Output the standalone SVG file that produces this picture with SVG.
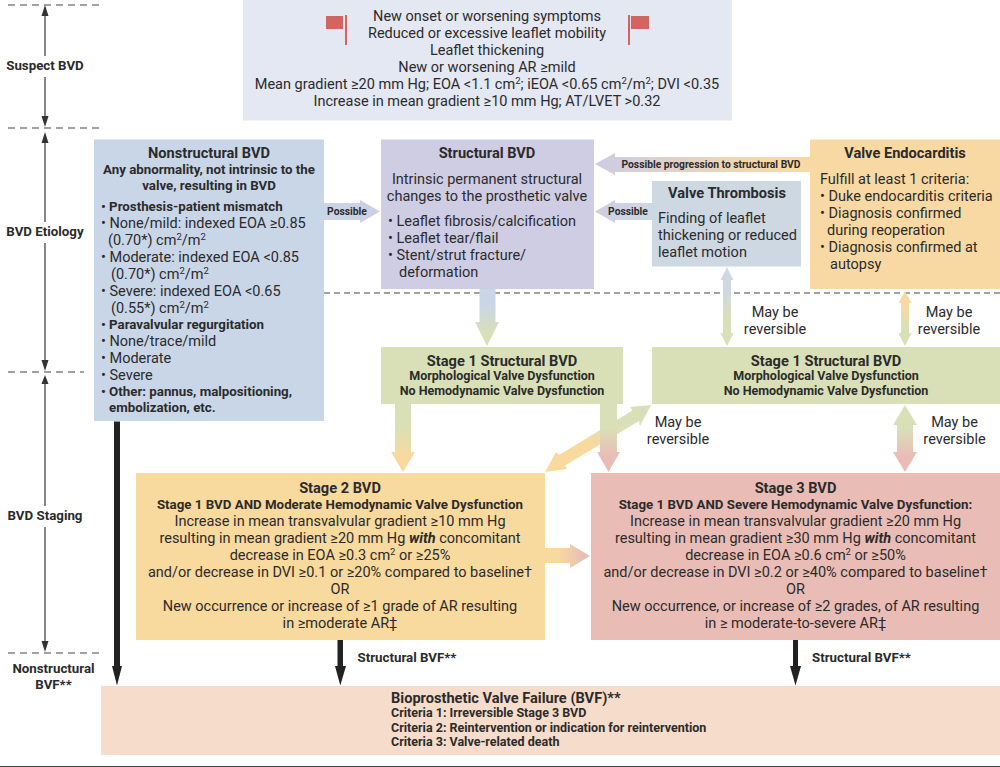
<svg xmlns="http://www.w3.org/2000/svg" width="1000" height="767" viewBox="0 0 1000 767">
<defs>
<style>
text{font-family:"Roboto","Noto Sans","Liberation Sans",sans-serif;fill:#2b2b2b;font-size:14.500px}
.c{text-anchor:middle}
.h{font-weight:700;font-size:14.600px}
.b{font-weight:700;font-size:13.300px}
.s{font-weight:700;font-size:12.500px}
.t{font-weight:700;font-size:10.300px}
.l{font-weight:700;font-size:13.300px}
.dash{stroke:#444;stroke-width:1.2;stroke-dasharray:7 5;fill:none}
.dash2{stroke:#444;stroke-width:1.2;stroke-dasharray:6 4;fill:none}
.ax{stroke:#555;stroke-width:1.4;fill:none}
.ah{fill:#333}
.k{fill:#222}
.flag{fill:#d0665f}
</style>
<linearGradient id="gBlueGreen" x1="0" y1="0" x2="0" y2="1"><stop offset="0.25" stop-color="#c9d6e8"/><stop offset="0.8" stop-color="#d9e0b7"/></linearGradient>
<linearGradient id="gThromb" x1="0" y1="0" x2="0" y2="1"><stop offset="0.3" stop-color="#ced8e3"/><stop offset="0.65" stop-color="#d9e0b7"/></linearGradient>
<linearGradient id="gEndo" x1="0" y1="0" x2="0" y2="1"><stop offset="0.3" stop-color="#f8d9a4"/><stop offset="0.65" stop-color="#d9e0b7"/></linearGradient>
<linearGradient id="gGreenOrange" x1="0" y1="0" x2="0" y2="1"><stop offset="0.3" stop-color="#d9e0b7"/><stop offset="0.8" stop-color="#f8d99e"/></linearGradient>
<linearGradient id="gGreenPink" x1="0" y1="0" x2="0" y2="1"><stop offset="0.35" stop-color="#d9e0b7"/><stop offset="0.75" stop-color="#e9bdb6"/></linearGradient>
<linearGradient id="gOrangePink" x1="0" y1="0" x2="1" y2="0"><stop offset="0.3" stop-color="#f8d99e"/><stop offset="0.85" stop-color="#e9bdb6"/></linearGradient>
<linearGradient id="gPossL" x1="0" y1="0" x2="1" y2="0"><stop offset="0" stop-color="#c9d6e8"/><stop offset="1" stop-color="#cfcde3"/></linearGradient>
<linearGradient id="gPossR" x1="0" y1="0" x2="1" y2="0"><stop offset="0" stop-color="#cfcde3"/><stop offset="1" stop-color="#ced8e3"/></linearGradient>
<linearGradient id="gProg" x1="0" y1="0" x2="1" y2="0"><stop offset="0.05" stop-color="#cfcde3"/><stop offset="0.85" stop-color="#f8d9a4"/></linearGradient>
<linearGradient id="gDiag" x1="0" y1="1" x2="1" y2="0"><stop offset="0.4" stop-color="#f8d99e"/><stop offset="0.72" stop-color="#d9e0b7"/></linearGradient>
</defs>
<rect width="1000" height="767" fill="#fff"/>
<rect y="766" width="1000" height="1" fill="#444"/>

<g id="phase-axis">
<path class="dash" d="M8 5H100M8 128H100M8 372H84M8 653H100"/>
<path class="ax" d="M45 12V56M45 77V122M45 137V222M45 243V366M45 380V506M45 527V647"/>
<path class="ah" d="M45 5l-3.500 11h7zM45 127l-3.500 -11h7zM45 132l-3.500 11h7zM45 371l-3.500 -11h7zM45 375l-3.500 9h7zM45 652l-3.500 -11h7z"/>
<text class="l c" x="45" y="70">Suspect BVD</text>
<text class="l c" x="45" y="236">BVD Etiology</text>
<text class="l c" x="45" y="520">BVD Staging</text>
<text class="l c" x="53.500" y="673">Nonstructural</text>
<text class="l c" x="53.500" y="689">BVF**</text>
</g>

<path class="dash2" id="etiology-divider" d="M324 293H1000"/>

<g id="suspect">
<rect x="243" y="0" width="489" height="120.500" fill="#e3e8f2"/>
<rect class="flag" x="326" y="16" width="17" height="13"/><rect class="flag" x="345" y="15" width="2" height="30"/>
<rect class="flag" x="631" y="16" width="18" height="13"/><rect class="flag" x="628" y="15" width="2" height="30"/>
<text class="c" x="487" y="21">New onset or worsening symptoms</text>
<text class="c" x="487" y="38">Reduced or excessive leaflet mobility</text>
<text class="c" x="487" y="55">Leaflet thickening</text>
<text class="c" x="487" y="72">New or worsening AR ≥mild</text>
<text class="c" x="487" y="89">Mean gradient ≥20 mm Hg; EOA &lt;1.1 cm<tspan dy="-5" font-size="9.500">2</tspan><tspan dy="5">; iEOA &lt;0.65 cm</tspan><tspan dy="-5" font-size="9.500">2</tspan><tspan dy="5">/m</tspan><tspan dy="-5" font-size="9.500">2</tspan><tspan dy="5">; DVI &lt;0.35</tspan></text>
<text class="c" x="487" y="106">Increase in mean gradient ≥10 mm Hg; AT/LVET &gt;0.32</text>
</g>

<g id="nonstructural">
<rect x="94" y="139.500" width="230" height="281.500" fill="#c9d6e8"/>
<text class="h c" x="209" y="158">Nonstructural BVD</text>
<text class="b c" x="209" y="174">Any abnormality, not intrinsic to the</text>
<text class="b c" x="209" y="190">valve, resulting in BVD</text>
<text class="b" x="101" y="211">• Prosthesis-patient mismatch</text>
<text x="101" y="228">• None/mild: indexed EOA ≥0.85</text>
<text x="108" y="245">(0.70*) cm<tspan dy="-5" font-size="9.500">2</tspan><tspan dy="5">/m</tspan><tspan dy="-5" font-size="9.500">2</tspan></text>
<text x="101" y="262">• Moderate: indexed EOA &lt;0.85</text>
<text x="111" y="279">(0.70*) cm<tspan dy="-5" font-size="9.500">2</tspan><tspan dy="5">/m</tspan><tspan dy="-5" font-size="9.500">2</tspan></text>
<text x="101" y="296">• Severe: indexed EOA &lt;0.65</text>
<text x="111" y="313">(0.55*) cm<tspan dy="-5" font-size="9.500">2</tspan><tspan dy="5">/m</tspan><tspan dy="-5" font-size="9.500">2</tspan></text>
<text class="b" x="101" y="329">• Paravalvular regurgitation</text>
<text x="101" y="346">• None/trace/mild</text>
<text x="101" y="363">• Moderate</text>
<text x="101" y="380">• Severe</text>
<text class="b" x="101" y="396">• Other: pannus, malpositioning,</text>
<text class="b" x="109" y="412">embolization, etc.</text>
</g>

<g id="structural">
<rect x="381" y="139.500" width="213" height="149.500" fill="#cfcde3"/>
<text class="h c" x="487" y="158">Structural BVD</text>
<text class="c" x="487" y="184">Intrinsic permanent structural</text>
<text class="c" x="487" y="201">changes to the prosthetic valve</text>
<text x="388" y="226">• Leaflet fibrosis/calcification</text>
<text x="388" y="243">• Leaflet tear/flail</text>
<text x="388" y="260">• Stent/strut fracture/</text>
<text x="399" y="277">deformation</text>
</g>

<g id="thrombosis">
<rect x="652" y="181" width="149" height="85.500" fill="#ced8e3"/>
<text class="h c" x="727" y="198">Valve Thrombosis</text>
<text x="658" y="223">Finding of leaflet</text>
<text x="658" y="240">thickening or reduced</text>
<text x="658" y="257">leaflet motion</text>
</g>

<g id="endocarditis">
<rect x="810" y="139.500" width="190" height="149.500" fill="#f8d9a4"/>
<text class="h c" x="905" y="158">Valve Endocarditis</text>
<text x="820" y="184">Fulfill at least 1 criteria:</text>
<text x="820" y="201">• Duke endocarditis criteria</text>
<text x="820" y="218">• Diagnosis confirmed</text>
<text x="827" y="235">during reoperation</text>
<text x="820" y="252">• Diagnosis confirmed at</text>
<text x="830" y="269">autopsy</text>
</g>

<g id="stage1-left">
<rect x="381" y="347" width="242" height="57" fill="#d9e0b7"/>
<text class="h c" x="502" y="366">Stage 1 Structural BVD</text>
<text class="s c" x="502" y="380">Morphological Valve Dysfunction</text>
<text class="s c" x="502" y="395">No Hemodynamic Valve Dysfunction</text>
</g>

<g id="stage1-right">
<rect x="652" y="347" width="348" height="57" fill="#d9e0b7"/>
<text class="h c" x="826" y="366">Stage 1 Structural BVD</text>
<text class="s c" x="826" y="380">Morphological Valve Dysfunction</text>
<text class="s c" x="826" y="395">No Hemodynamic Valve Dysfunction</text>
</g>

<g id="stage2">
<rect x="136" y="473" width="409" height="167" fill="#f8d99e"/>
<text class="h c" x="340" y="493">Stage 2 BVD</text>
<text class="b c" x="340" y="509">Stage 1 BVD AND Moderate Hemodynamic Valve Dysfunction</text>
<text class="c" x="340" y="526">Increase in mean transvalvular gradient ≥10 mm Hg</text>
<text class="c" x="340" y="543">resulting in mean gradient ≥20 mm Hg <tspan font-weight="700" font-style="italic">with</tspan> concomitant</text>
<text class="c" x="340" y="560">decrease in EOA ≥0.3 cm<tspan dy="-5" font-size="9.500">2</tspan><tspan dy="5"> or ≥25%</tspan></text>
<text class="c" x="340" y="577">and/or decrease in DVI ≥0.1 or ≥20% compared to baseline†</text>
<text class="c" x="340" y="594">OR</text>
<text class="c" x="340" y="611">New occurrence or increase of ≥1 grade of AR resulting</text>
<text class="c" x="340" y="628">in ≥moderate AR‡</text>
</g>

<g id="stage3">
<rect x="591" y="473" width="409" height="167" fill="#e9bdb6"/>
<text class="h c" x="795.500" y="493">Stage 3 BVD</text>
<text class="b c" x="795.500" y="509">Stage 1 BVD AND Severe Hemodynamic Valve Dysfunction:</text>
<text class="c" x="795.500" y="526">Increase in mean transvalvular gradient ≥20 mm Hg</text>
<text class="c" x="795.500" y="543">resulting in mean gradient ≥30 mm Hg <tspan font-weight="700" font-style="italic">with</tspan> concomitant</text>
<text class="c" x="795.500" y="560">decrease in EOA ≥0.6 cm<tspan dy="-5" font-size="9.500">2</tspan><tspan dy="5"> or ≥50%</tspan></text>
<text class="c" x="795.500" y="577">and/or decrease in DVI ≥0.2 or ≥40% compared to baseline†</text>
<text class="c" x="795.500" y="594">OR</text>
<text class="c" x="795.500" y="611">New occurrence, or increase of ≥2 grades, of AR resulting</text>
<text class="c" x="795.500" y="628">in ≥ moderate-to-severe AR‡</text>
</g>

<g id="bvf">
<rect x="101" y="686" width="899" height="69" fill="#f6dcca"/>
<text class="h" x="391" y="703">Bioprosthetic Valve Failure (BVF)**</text>
<text class="s" x="391" y="717">Criteria 1: Irreversible Stage 3 BVD</text>
<text class="s" x="391" y="732">Criteria 2: Reintervention or indication for reintervention</text>
<text class="s" x="391" y="746">Criteria 3: Valve-related death</text>
</g>

<g id="connectors">
<polygon fill="url(#gPossL)" points="324,203 360,203 360,200 380,211.500 360,223 360,220 324,220"/>
<polygon fill="url(#gPossR)" points="652,203 615,203 615,200 595,211.500 615,223 615,220 652,220"/>
<polygon fill="url(#gProg)" points="810,157 615,157 615,153 595,164 615,175 615,172 810,172"/>
<polygon fill="url(#gBlueGreen)" points="479.500,289 495.500,289 495.500,322 499,322 487,346 475,322 479.500,322"/>
<polygon fill="url(#gThromb)" points="727,267 733.500,280 731,280 731,333 733.500,333 727,346 720.500,333 723,333 723,280 720.500,280"/>
<polygon fill="url(#gEndo)" points="905,291 911.500,303 909,303 909,333 911.500,333 905,346 898.500,333 901,333 901,303 898.500,303"/>
<polygon fill="url(#gGreenOrange)" points="395,404 411,404 411,452 415,452 403,472 391,452 395,452"/>
<polygon fill="url(#gDiag)" points="651,405 630,407 632.500,410.500 559,455 556,452 545,472 567,469 565,465.500 639,421 640,426"/>
<polygon fill="url(#gGreenPink)" points="600,404 617,404 617,452 620,452 608.500,472 597,452 600,452"/>
<polygon fill="url(#gGreenPink)" points="905,405 917,425 913,425 913,452 917,452 905,472 893,452 897,452 897,425 893,425"/>
<polygon fill="url(#gOrangePink)" points="545,548 570,548 570,544 590,556 570,568 570,563 545,563"/>
<polygon class="k" points="114,421.500 120,421.500 120,666 122,666 117,685.500 112,666 114,666"/>
<polygon class="k" points="337.500,640 343,640 343,666 346,666 340.300,685.500 335,666 337.500,666"/>
<polygon class="k" points="793,640 798,640 798,666 801,666 795.500,685.500 790,666 793,666"/>
</g>

<g id="connector-labels">
<text class="t c" x="347" y="215">Possible</text>
<text class="t c" x="628" y="215">Possible</text>
<text class="t c" x="711" y="168">Possible progression to structural BVD</text>
<text class="c" x="775" y="317">May be</text>
<text class="c" x="775" y="334">reversible</text>
<text class="c" x="949" y="317">May be</text>
<text class="c" x="949" y="334">reversible</text>
<text class="c" x="678" y="427">May be</text>
<text class="c" x="678" y="444">reversible</text>
<text class="c" x="954.500" y="427">May be</text>
<text class="c" x="954.500" y="444">reversible</text>
<text class="l" x="357.500" y="662">Structural BVF**</text>
<text class="l" x="812" y="662">Structural BVF**</text>
</g>
</svg>
